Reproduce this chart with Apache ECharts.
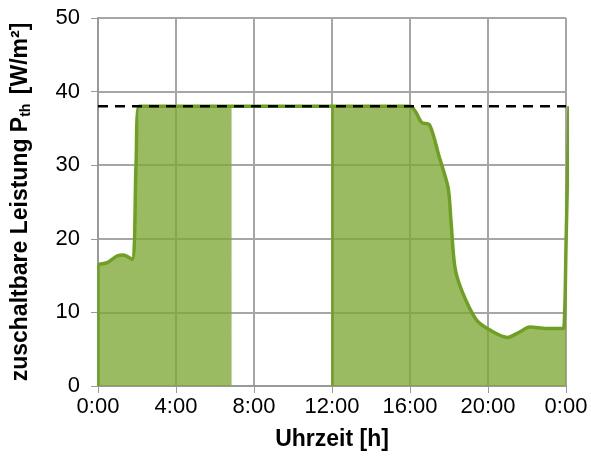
<!DOCTYPE html>
<html>
<head>
<meta charset="utf-8">
<script src="https://cdn.jsdelivr.net/npm/echarts@6/dist/echarts.min.js"></script>
<style>
html, body { margin: 0; padding: 0; background: #fff; }
#main { width: 591px; height: 461px; }
</style>
</head>
<body>
<div id="main"></div>
<script>
// Uhrzeit in Stunden, zuschaltbare Leistung in W/m²
var lineHours = [0, 0.5, 1.0, 1.3, 1.75, 1.95, 2.1, 4, 8, 12, 16.0, 16.3, 16.6, 17.0, 17.5, 17.95, 18.1, 18.3, 18.65, 19.4, 20.1, 21.0, 21.6, 22.15, 23.0, 23.75, 23.9, 24.0, 24.15];
var lineValues = [16.5, 16.8, 17.7, 17.8, 17.2, 30, 38, 38, 38, 38, 38, 37.2, 35.8, 35.5, 31.1, 27.0, 22.5, 16.2, 13.0, 9.0, 7.6, 6.6, 7.3, 8.0, 7.8, 7.8, 8.0, 19, 38];
// Fläche: Lücke zwischen ca. 6:50 und 12:00
var areaGapStart = 6.85;
var areaGapEnd = 12.0;
var refValue = 38;
var xTicks = ['0:00', '4:00', '8:00', '12:00', '16:00', '20:00', '0:00'];

(function() {
	var myChart = echarts.init(document.getElementById('main'));

	var lineData = [];
	var areaData = [];
	for (var i = 0; i < lineHours.length; i++) {
		lineData.push([lineHours[i], lineValues[i]]);
	}
	for (var i = 0; i < lineHours.length; i++) {
		var h = lineHours[i];
		if (h > areaGapStart && h < areaGapEnd) continue;
		areaData.push([h, lineValues[i]]);
		if (i + 1 < lineHours.length && h <= areaGapStart && lineHours[i + 1] > areaGapStart) {
			areaData.push([areaGapStart, refValue]);
			areaData.push([areaGapStart, null]);
			areaData.push([areaGapEnd, refValue]);
		}
	}

	var option = {
		backgroundColor: '#ffffff',
		animation: false,
		grid: { left: 98, right: 25, top: 18, bottom: 75 },
		xAxis: {
			type: 'value',
			min: 0,
			max: 24,
			interval: 4,
			name: 'Uhrzeit [h]',
			nameLocation: 'middle',
			nameGap: 42,
			nameTextStyle: { fontFamily: 'Liberation Sans', fontWeight: 'bold', fontSize: 23, color: '#000' },
			axisLine: { show: true, onZero: false, lineStyle: { color: '#999', width: 2 } },
			axisTick: { show: true, length: 7, lineStyle: { color: '#999', width: 1 } },
			axisLabel: {
				margin: 10,
				fontFamily: 'Liberation Sans',
				fontSize: 22,
				color: '#000',
				formatter: function(v) { return xTicks[Math.round(v / 4)]; }
			},
			splitLine: { show: true, lineStyle: { color: '#a6a6a6', width: 2 } }
		},
		yAxis: {
			type: 'value',
			min: 0,
			max: 50,
			interval: 10,
			name: 'zuschaltbare Leistung P{sub|th} [W/m²]',
			nameLocation: 'middle',
			nameGap: 65,
			nameRotate: 90,
			nameTextStyle: {
				fontFamily: 'Liberation Sans', fontWeight: 'bold', fontSize: 23, color: '#000',
				rich: {
					sub: { fontFamily: 'Liberation Sans', fontWeight: 'bold', fontSize: 14, color: '#000', verticalAlign: 'bottom', padding: [10, 3, 0, 0] }
				}
			},
			axisLine: { show: true, lineStyle: { color: '#999', width: 2 } },
			axisTick: { show: true, length: 7, lineStyle: { color: '#999', width: 1 } },
			axisLabel: { margin: 18, fontFamily: 'Liberation Sans', fontSize: 22, color: '#000' },
			splitLine: { show: true, lineStyle: { color: '#a6a6a6', width: 2 } }
		},
		series: [
			{
				name: 'Fläche',
				type: 'line',
				data: areaData,
				showSymbol: false,
				connectNulls: false,
				lineStyle: { width: 0 },
				areaStyle: { color: 'rgba(127,168,54,0.78)', opacity: 1 },
				z: 2
			},
			{
				name: 'Leistung',
				type: 'line',
				data: lineData,
				smooth: 0.3,
				showSymbol: false,
				lineStyle: { color: '#6fa024', width: 3.5 },
				markLine: {
					silent: true,
					symbol: 'none',
					label: { show: false },
					lineStyle: { color: '#6fa024', width: 2.5, type: 'solid' },
					data: [
						[{ coord: [areaGapEnd, 0] }, { coord: [areaGapEnd, refValue] }],
						[{ coord: [0, 0] }, { coord: [0, lineValues[0]] }]
					]
				},
				z: 3
			},
			{
				name: 'Referenz',
				type: 'line',
				data: [[0, refValue], [24, refValue]],
				showSymbol: false,
				lineStyle: { color: '#000', width: 2.5, type: [10, 7] },
				z: 4
			}
		]
	};
	myChart.setOption(option, true);
})();
</script>
</body>
</html>
